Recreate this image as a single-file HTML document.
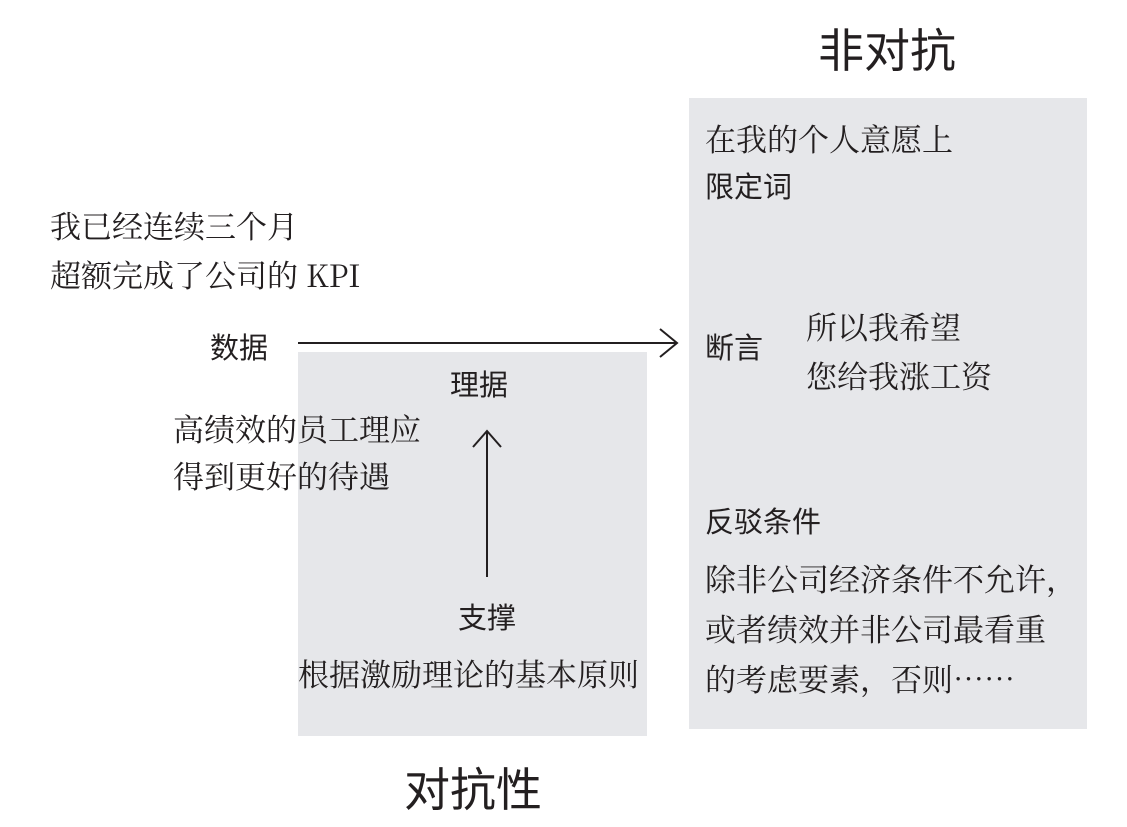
<!DOCTYPE html>
<html><head><meta charset="utf-8"><style>
body{margin:0;width:1127px;height:827px;background:#fff;position:relative;overflow:hidden}
.t{position:absolute;white-space:nowrap;line-height:1;color:#231f20}
.s{font-family:"Noto Serif CJK SC","Liberation Serif",serif;font-size:31px}
.a{font-family:"Liberation Sans","Noto Sans CJK SC",sans-serif;font-size:29px}
.box{position:absolute;background:#e6e7ea}
</style></head><body>
<div class="box" style="left:689px;top:98px;width:398px;height:631px"></div>
<div class="box" style="left:298px;top:352px;width:349px;height:384px"></div>
<div class="t a" style="left:818px;top:28px;font-size:46px">非对抗</div>
<div class="t a" style="left:404px;top:767px;font-size:46px">对抗性</div>
<div class="t s" style="left:705px;top:122px">在我的个人意愿上</div>
<div class="t a" style="left:705px;top:174px">限定词</div>
<div class="t s" style="left:50px;top:209px">我已经连续三个月</div>
<div class="t s" style="left:50px;top:258px">超额完成了公司的 KPI</div>
<div class="t a" style="left:210px;top:335px">数据</div>
<div class="t a" style="left:705px;top:335px">断言</div>
<div class="t s" style="left:806px;top:310px">所以我希望</div>
<div class="t s" style="left:806px;top:359px">您给我涨工资</div>
<div class="t a" style="left:450px;top:372px">理据</div>
<div class="t s" style="left:173px;top:412px">高绩效的员工理应</div>
<div class="t s" style="left:173px;top:459px">得到更好的待遇</div>
<div class="t a" style="left:458px;top:605px">支撑</div>
<div class="t s" style="left:298px;top:657px">根据激励理论的基本原则</div>
<div class="t a" style="left:705px;top:509px">反驳条件</div>
<div class="t s" style="left:705px;top:562px">除非公司经济条件不允许，</div>
<div class="t s" style="left:705px;top:612px">或者绩效并非公司最看重</div>
<div class="t s" style="left:705px;top:662px">的考虑要素，否则……</div>
<svg width="1127" height="827" style="position:absolute;left:0;top:0">
<g stroke="#231f20" stroke-width="2" fill="none">
<line x1="298" y1="343" x2="677" y2="343"/>
<polyline points="660,329 677,343 660,357"/>
<line x1="487" y1="577" x2="487" y2="431"/>
<polyline points="473,447 487,431 501,447"/>
</g></svg>
</body></html>
